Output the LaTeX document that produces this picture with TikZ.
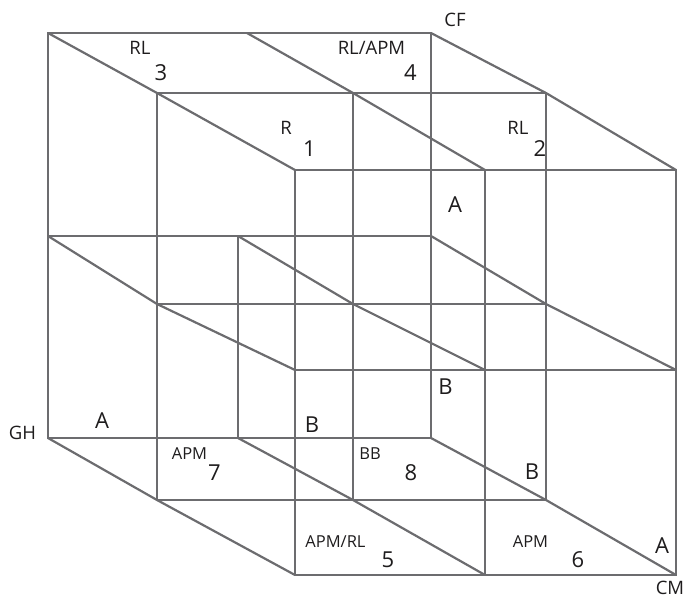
\documentclass[tikz,border=0pt]{standalone}
\usepackage{fontspec}
\setmainfont{Open Sans}
\definecolor{lc}{RGB}{108,108,111}
\definecolor{tc}{RGB}{30,28,29}
\begin{document}
\begin{tikzpicture}[x=1pt,y=-1pt,
  ln/.style={draw=lc, line width=2.2pt, line join=miter},
  lab/.style={anchor=base, inner sep=0pt, text=tc},
  sm/.style={lab, font=\fontsize{18.5}{20}\selectfont},
  xs/.style={lab, font=\fontsize{16.5}{18}\selectfont},
  big/.style={lab, font=\fontsize{22}{24}\selectfont}]
\useasboundingbox (0,0) rectangle (686,596);
% back layer
\coordinate (btl) at (48,33);  \coordinate (btc) at (247,33);  \coordinate (btr) at (431,33);
\coordinate (bml) at (48,236); \coordinate (bmc) at (238,236); \coordinate (bmr) at (431,236);
\coordinate (bbl) at (48,438); \coordinate (bbc) at (238,438); \coordinate (bbr) at (431,438);
% middle layer
\coordinate (mtl) at (157,93);  \coordinate (mtc) at (353,93);  \coordinate (mtr) at (546,93);
\coordinate (mml) at (157,304); \coordinate (mmc) at (353,304); \coordinate (mmr) at (546,304);
\coordinate (mbl) at (157,500); \coordinate (mbc) at (353,500); \coordinate (mbr) at (546,500);
% front layer
\coordinate (ftl) at (295,170); \coordinate (ftc) at (485,170); \coordinate (ftr) at (676,170);
\coordinate (fml) at (295,370); \coordinate (fmc) at (485,370); \coordinate (fmr) at (676,370);
\coordinate (fbl) at (295,575); \coordinate (fbc) at (485,575); \coordinate (fbr) at (676,575);

% layer outlines and dividers
\draw[ln] (btl) -- (btr) -- (bbr) -- (bbl) -- cycle;
\draw[ln] (bml) -- (bmr);
\draw[ln] (bmc) -- (bbc);
\draw[ln] (mtl) -- (mtr) -- (mbr) -- (mbl) -- cycle;
\draw[ln] (mml) -- (mmr);
\draw[ln] (mtc) -- (mbc);
\draw[ln] (ftl) -- (ftr) -- (fbr) -- (fbl) -- cycle;
\draw[ln] (fml) -- (fmr);
\draw[ln] (ftc) -- (fbc);
% depth lines
\draw[ln] (btl) -- (mtl) -- (ftl);
\draw[ln] (btc) -- (mtc) -- (ftc);
\draw[ln] (btr) -- (mtr) -- (ftr);
\draw[ln] (bml) -- (mml) -- (fml);
\draw[ln] (bmc) -- (mmc) -- (fmc);
\draw[ln] (bmr) -- (mmr) -- (fmr);
\draw[ln] (bbl) -- (mbl) -- (fbl);
\draw[ln] (bbc) -- (mbc) -- (fbc);
\draw[ln] (bbr) -- (mbr) -- (fbr);

% labels
\node[sm]  (l3t) at (140,55) {RL};
\node[big] (l3)  at (161,81) {3};
\node[sm]  (l4t) at (371.5,55) {RL/APM};
\node[big] (l4)  at (410.5,81) {4};
\node[sm]  (cf)  at (455,27) {CF};
\node[sm]  (l1t) at (286,135) {R};
\node[big] (l1)  at (309.5,157) {1};
\node[sm]  (l2t) at (518,135) {RL};
\node[big] (l2)  at (540,157) {2};
\node[big] (a1)  at (455,213) {A};
\node[big] (b1)  at (445.5,394) {B};
\node[big] (b2)  at (312,432) {B};
\node[big] (a2)  at (102,428) {A};
\node[sm]  (gh)  at (22.5,439) {GH};
\node[xs]  (l7t) at (189.5,459) {APM};
\node[big] (l7)  at (214.5,480) {7};
\node[xs]  (l8t) at (370,459) {BB};
\node[big] (l8)  at (411,480) {8};
\node[big] (b3)  at (532,479) {B};
\node[xs]  (l5t) at (335.5,547) {APM/RL};
\node[big] (l5)  at (388,567) {5};
\node[xs]  (l6t) at (530.5,547) {APM};
\node[big] (l6)  at (578,567) {6};
\node[big] (a3)  at (662,553) {A};
\node[sm]  (cm)  at (670,594.5) {CM};
\end{tikzpicture}
\end{document}
